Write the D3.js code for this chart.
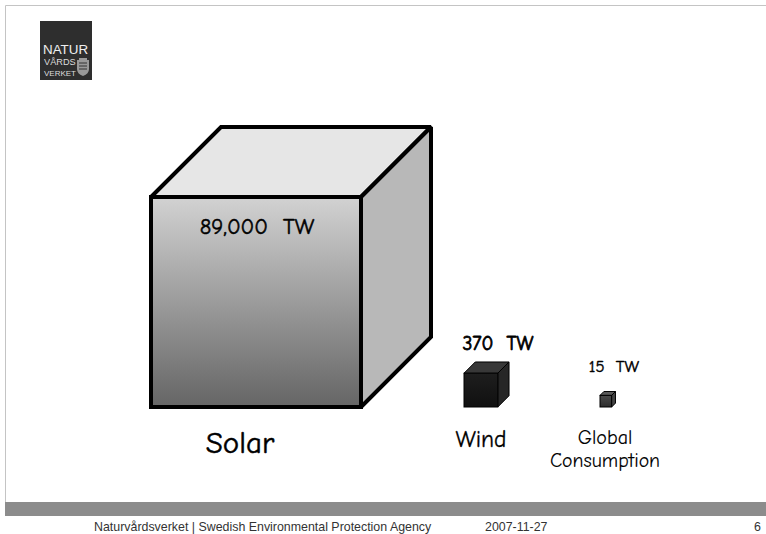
<!DOCTYPE html>
<html><head><meta charset="utf-8">
<script src="https://cdn.jsdelivr.net/npm/d3@7/dist/d3.min.js"></script>
<style>html,body{margin:0;padding:0;background:#fff}svg{display:block}</style>
</head><body><div id="c"></div>
<script>
const names = ["Solar", "Wind", "Global Consumption"];
const powerTW = [89000, 370, 15];
const valueLabels = ["89,000  TW", "370  TW", "15  TW"];
const footerLeft = "Naturvårdsverket | Swedish Environmental Protection Agency";
const footerDate = "2007-11-27";
const footerPage = "6";
const logoLines = ["NATUR", "VÅRDS", "VERKET"];

const W = 766, H = 534;
const hand = "'Comic Sans MS','Comic Neue','DejaVu Sans',sans-serif";
const svg = d3.select("#c").append("svg").attr("width", W).attr("height", H);
svg.append("rect").attr("width", W).attr("height", H).attr("fill", "#fff");

// slide frame
svg.append("path").attr("d", `M5.5 502V5.5H${W}`).attr("fill", "none").attr("stroke", "#c4c4c4");
svg.append("rect").attr("x", 5).attr("y", 502).attr("width", W - 5).attr("height", 14).attr("fill", "#8c8c8c");

// logo
const logo = svg.append("g").attr("font-family", "Liberation Sans, sans-serif");
logo.append("rect").attr("x", 40).attr("y", 21).attr("width", 52).attr("height", 59).attr("fill", "#2e2e2e");
logo.append("text").text(logoLines[0]).attr("x", 43).attr("y", 54).attr("font-size", 13.4).attr("fill", "#eee");
logo.append("text").text(logoLines[1]).attr("x", 44).attr("y", 65).attr("font-size", 9.2).attr("fill", "#ddd");
logo.append("text").text(logoLines[2]).attr("x", 44).attr("y", 75.5).attr("font-size", 8).attr("fill", "#ddd");
logo.append("path").attr("d", "M79 58h8v2h2v9q0 5-6 7q-6-2-6-7v-9h2z").attr("fill", "#999");
logo.append("path").attr("d", "M79 63h8M79 66h8M79 69h8").attr("stroke", "#333");

// cubes: edge proportional to the cube root of the power (volume encodes value)
const edge = d3.scalePow().exponent(1 / 3).domain([0, 89000]).range([0, 210]);
const xFront = d3.scaleOrdinal().domain(names).range([151, 464, 600]);
const baseY = 407;
const styles = [
  {top: "#e6e6e6", side: "#b8b8b8", g0: "#d2d2d2", g1: "#656565", sw: 4},
  {top: "#383838", side: "#262626", g0: "#1e1e1e", g1: "#101010", sw: 1},
  {top: "#5a5a5a", side: "#444", g0: "#4a4a4a", g1: "#2c2c2c", sw: 1}
];
const defs = svg.append("defs");
styles.forEach((s, i) => {
  const g = defs.append("linearGradient").attr("id", "g" + i).attr("x1", 0).attr("x2", 0).attr("y1", 0).attr("y2", 1);
  g.append("stop").attr("offset", 0).attr("stop-color", s.g0);
  g.append("stop").attr("offset", 1).attr("stop-color", s.g1);
});
names.forEach((n, i) => {
  const e = edge(powerTW[i]), d = e / 3, x = xFront(n), y = baseY - e, s = styles[i];
  const g = svg.append("g").attr("stroke", "#000").attr("stroke-width", s.sw).attr("stroke-linejoin", "miter").attr("stroke-miterlimit", 1.9);
  g.append("path").attr("fill", s.top).attr("d", d3.line()([[x, y], [x + d, y - d], [x + e + d, y - d], [x + e, y]]) + "Z");
  g.append("path").attr("fill", s.side).attr("d", d3.line()([[x + e, y], [x + e + d, y - d], [x + e + d, baseY - d], [x + e, baseY]]) + "Z");
  g.append("rect").attr("x", x).attr("y", y).attr("width", e).attr("height", e).attr("fill", `url(#g${i})`);
});

// texts
function t(str, x, y, size, sw) {
  svg.append("text").text(str).attr("x", x).attr("y", y).attr("text-anchor", "middle")
    .attr("font-family", hand).attr("font-size", size).attr("font-weight", 400)
    .attr("fill", "#000").attr("stroke", "#000").attr("stroke-width", sw)
    .style("white-space", "pre");
}
t(valueLabels[0], 257, 234, 22.5, 0.5);
t(valueLabels[1], 498, 350, 19.5, 0.8);
t(valueLabels[2], 614, 372, 16.8, 0.4);
t(names[0], 240, 453, 31, 0.5);
t(names[1], 481, 447, 23.5, 0.3);
t("Global", 605, 444, 20, 0.1);
t("Consumption", 605, 467, 19.8, 0.1);

// footer
function f(str, x, anchor) {
  svg.append("text").text(str).attr("x", x).attr("y", 531).attr("text-anchor", anchor || "start")
    .attr("font-family", "Liberation Sans, Arial, sans-serif").attr("font-size", 12.4).attr("fill", "#333");
}
f(footerLeft, 94);
f(footerDate, 485);
f(footerPage, 754);
</script></body></html>
